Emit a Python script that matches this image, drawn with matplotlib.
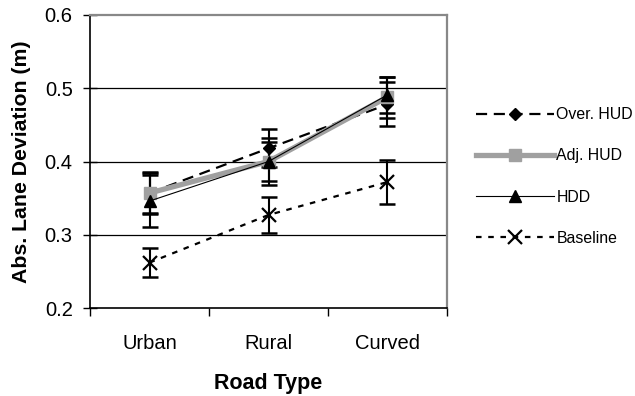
import numpy as np
import matplotlib
matplotlib.use('Agg')
import matplotlib.pyplot as plt

plt.rcParams['font.family'] = ['Liberation Sans', 'DejaVu Sans']

road_types = ['Urban', 'Rural', 'Curved']
series_names = ['Over. HUD', 'Adj. HUD', 'HDD', 'Baseline']

over_hud = [0.357, 0.418, 0.478]
over_hud_err = [0.029, 0.026, 0.030]
adj_hud = [0.357, 0.400, 0.488]
adj_hud_err = [0.027, 0.027, 0.028]
hdd = [0.346, 0.400, 0.491]
hdd_err = [0.035, 0.032, 0.025]
baseline = [0.262, 0.327, 0.372]
baseline_err = [0.020, 0.025, 0.030]

yticks = [0.2, 0.3, 0.4, 0.5, 0.6]

gray = '#a0a0a0'
styles = [
    dict(color='black', ls=(0, (5, 3)), lw=1.6, marker='D', ms=6.5, mfc='black', mec='black'),
    dict(color=gray, ls='-', lw=3.8, marker='s', ms=8.5, mfc=gray, mec=gray),
    dict(color='black', ls='-', lw=0.8, marker='^', ms=9, mfc='black', mec='black'),
    dict(color='black', ls=(0, (2.5, 3)), lw=1.6, marker='x', ms=10, mew=1.6, mfc='black', mec='black'),
]
values = [over_hud, adj_hud, hdd, baseline]
errors = [over_hud_err, adj_hud_err, hdd_err, baseline_err]

fig = plt.figure(figsize=(6.35, 3.96), dpi=100)
ax = fig.add_axes([90/635, 1 - 308/396, 357/635, 293/396])

x = np.arange(len(road_types))
handles = []
for name, vals, errs, st in zip(series_names, values, errors, styles):
    ax.errorbar(x, vals, yerr=errs, fmt='none', ecolor='black', elinewidth=1.5,
                capsize=5.5, capthick=1.8, zorder=3)
    line, = ax.plot(x, vals, label=name, zorder=4, **st)
    handles.append(line)

ax.set_xlim(-0.5, 2.5)
ax.set_ylim(0.2, 0.6)
ax.set_yticks(yticks)
ax.set_yticklabels([f'{v:.1f}' for v in yticks])
ax.set_xticks(x)
ax.set_xticklabels(road_types)
ax.set_xticks([-0.5, 0.5, 1.5, 2.5], minor=True)
ax.tick_params(axis='x', which='major', length=0, pad=19, labelsize=14.5)
ax.tick_params(axis='x', which='minor', length=6, width=1, direction='out')
ax.tick_params(axis='y', which='major', length=10, width=1, direction='inout', pad=7.5, labelsize=14.5)

for v in yticks[1:-1]:
    ax.axhline(v, color='black', lw=0.9, zorder=1)

ax.spines['left'].set_linewidth(1.2)
ax.spines['bottom'].set_linewidth(1.2)
ax.spines['top'].set_color('#888888')
ax.spines['top'].set_linewidth(1.6)
ax.spines['right'].set_color('#888888')
ax.spines['right'].set_linewidth(1.6)

ax.set_xlabel('Road Type', fontsize=15.5, fontweight='bold', labelpad=14)
ax.set_ylabel('Abs. Lane Deviation (m)', fontsize=15.3, fontweight='bold', labelpad=9.5)

fig.legend(handles=handles, loc='upper left', bbox_to_anchor=(470/635, 1 - 101/396),
           frameon=False, fontsize=11.4, handlelength=4.9, handletextpad=0.15,
           labelspacing=1.65, borderaxespad=0)

fig.savefig('out.png', dpi=100)
